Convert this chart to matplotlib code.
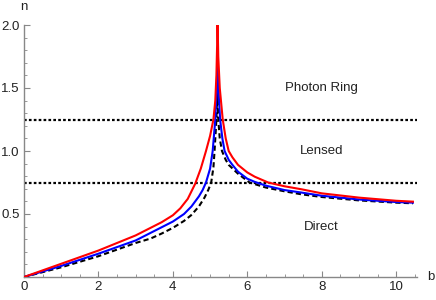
import matplotlib
matplotlib.use('Agg')
import matplotlib.pyplot as plt
from matplotlib.ticker import MultipleLocator

plt.rcParams['font.family'] = ['Liberation Sans', 'DejaVu Sans']

# curves: n (orbit number) against impact parameter b
b_red = [0, 1, 2, 3, 3.4, 3.7, 4.0, 4.2, 4.4, 4.6, 4.75, 4.89, 5.0, 5.09, 5.14, 5.17, 5.19, 5.2,
         5.22, 5.26, 5.34, 5.42, 5.5, 5.6, 5.75, 6.0, 6.2, 6.56, 7.0, 7.46, 8, 9, 10, 10.45]
n_red = [0, 0.105, 0.21, 0.33, 0.39, 0.435, 0.49, 0.545, 0.62, 0.74, 0.86, 1.0, 1.12, 1.25, 1.4, 1.6, 1.85, 2.05,
         1.75, 1.5, 1.25, 1.1, 1.0, 0.95, 0.89, 0.83, 0.796, 0.75, 0.72, 0.696, 0.664, 0.63, 0.605, 0.598]

b_blue = [0, 1, 2, 3, 3.4, 3.7, 4.0, 4.3, 4.5, 4.7, 4.8, 4.89, 5.0, 5.07, 5.14, 5.18, 5.2,
          5.21, 5.24, 5.27, 5.33, 5.39, 5.5, 5.6, 5.75, 6.0, 6.2, 6.5, 7.0, 7.46, 8, 9, 10, 10.45]
n_blue = [0, 0.088, 0.185, 0.29, 0.35, 0.395, 0.44, 0.5, 0.56, 0.64, 0.69, 0.75, 0.86, 1.0, 1.25, 1.5, 1.75,
          1.6, 1.4, 1.25, 1.1, 1.0, 0.93, 0.89, 0.836, 0.78, 0.755, 0.725, 0.69, 0.67, 0.645, 0.615, 0.595, 0.59]

b_black = [0, 1, 2, 3, 3.4, 3.7, 4.0, 4.3, 4.49, 4.7, 4.85, 4.95, 5.03, 5.09, 5.12, 5.17, 5.19, 5.196,
           5.21, 5.22, 5.26, 5.32, 5.42, 5.5, 5.75, 6.06, 6.5, 7.0, 7.46, 8, 9, 10, 10.45]
n_black = [0, 0.077, 0.165, 0.27, 0.305, 0.345, 0.39, 0.445, 0.49, 0.56, 0.63, 0.69, 0.75, 0.87, 1.0, 1.25, 1.45, 1.6,
           1.4, 1.25, 1.1, 1.0, 0.93, 0.89, 0.82, 0.75, 0.71, 0.68, 0.656, 0.635, 0.608, 0.59, 0.585]

# region boundaries and labels
n_bounds = [0.75, 1.25]
region_labels = ['Direct', 'Lensed', 'Photon Ring']
region_n = [0.40, 1.0, 1.5]
region_b = 8.0

fig = plt.figure(figsize=(4.36, 3.0), dpi=100)
ax = fig.add_axes([24/436, 23/300, 393/436, 252/300])

for nb in n_bounds:
    ax.axhline(nb, color='black', lw=1.6, linestyle=(0, (1.2, 1.0)), zorder=1)

ax.plot(b_black, n_black, color='black', lw=1.5, linestyle=(0, (2.5, 1.5)), zorder=2)
ax.plot(b_blue, n_blue, color='#0000ff', lw=1.5, zorder=3)
ax.plot(b_red, n_red, color='#ff0000', lw=1.5, zorder=4)

for lab, nn in zip(region_labels, region_n):
    ax.text(region_b, nn, lab, ha='center', va='center', fontsize=9.5, color='#222222')

ax.set_xlim(0, 10.56)
ax.set_ylim(0, 2.0)

ax.xaxis.set_major_locator(MultipleLocator(2))
ax.xaxis.set_minor_locator(MultipleLocator(0.5))
ax.yaxis.set_major_locator(MultipleLocator(0.5))
ax.yaxis.set_minor_locator(MultipleLocator(0.1))
ax.yaxis.set_major_formatter(plt.FuncFormatter(lambda v, p: f'{v:.1f}' if v > 0 else ''))

for side in ['top', 'right']:
    ax.spines[side].set_visible(False)
for side in ['left', 'bottom']:
    ax.spines[side].set_color('#888888')
    ax.spines[side].set_linewidth(1.0)

ax.tick_params(which='major', direction='in', length=4, width=0.8, color='#888888',
               labelsize=9.5, labelcolor='#222222', pad=3)
ax.tick_params(which='minor', direction='in', length=2.2, width=0.6, color='#888888')

ax.annotate('n', xy=(0, 1), xycoords='axes fraction', xytext=(0, 9), textcoords='offset points',
            ha='center', va='bottom', fontsize=9.5, color='#222222')
ax.annotate('b', xy=(1, 0), xycoords='axes fraction', xytext=(7, 0), textcoords='offset points',
            ha='left', va='center', fontsize=9.5, color='#222222')

plt.savefig('out.png', dpi=100)
plt.close()
